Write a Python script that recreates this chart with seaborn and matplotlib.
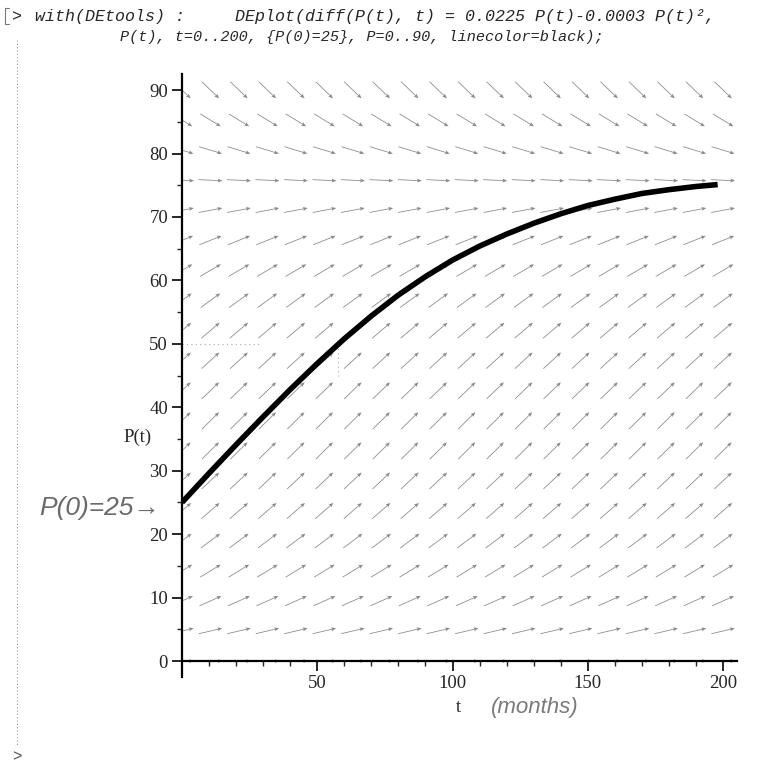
import numpy as np
import matplotlib.pyplot as plt
import seaborn as sns

# solution curve P(t)
t_curve = [0, 10, 20, 30, 40, 50, 60, 70, 80, 90, 100, 110, 120, 130, 140,
           150, 160, 170, 180, 190, 198]
P_curve = [25.0, 29.6, 34.1, 38.5, 42.8, 46.9, 50.8, 54.4, 57.7, 60.6, 63.2,
           65.4, 67.3, 69.0, 70.5, 71.8, 72.8, 73.7, 74.3, 74.8, 75.1]

# slope dP/dt of the direction field, one value per arrow row (P = 0 .. 90)
row_slopes = [0.00, 0.10, 0.19, 0.26, 0.32, 0.37, 0.40, 0.42, 0.42, 0.41,
              0.39, 0.36, 0.31, 0.25, 0.17, 0.08, -0.02, -0.13, -0.26, -0.41]

x_ticks = [50, 100, 150, 200]
y_ticks = [0, 10, 20, 30, 40, 50, 60, 70, 80, 90]

sns.set_style("white")
plt.rcParams["font.family"] = ["Liberation Serif", "DejaVu Serif"]

W, H = 777, 775
fig = plt.figure(figsize=(W / 100, H / 100), dpi=100)

# axes box in pixels
left, right, top, bottom = 182, 736.6, 74.2, 676.9
ax = fig.add_axes([left / W, 1 - bottom / H, (right - left) / W, (bottom - top) / H])
ax.set_xlim(0, 205)
ax.set_ylim(-2.5, 92.5)
px_x = (right - left) / 205
px_y = (bottom - top) / 95

# direction field: 20 x 20 grid, fixed arrow length on screen
tg = np.linspace(0, 200, 20)
pg = np.linspace(0, 90, 20)
T, P = np.meshgrid(tg, pg)
S = np.repeat(np.array(row_slopes)[:, None], len(tg), axis=1)
ang = np.arctan2(S * px_y, px_x)
ax.quiver(T, P, np.cos(ang), np.sin(ang), angles="uv", pivot="middle",
          scale_units="dots", scale=1 / 24, units="dots", width=0.8,
          headwidth=5, headlength=6, headaxislength=5, color="#8a8a8a",
          zorder=2)

# faint pencil marks at P = 50
ax.plot([0, 29], [50, 50], color="#aaaaaa", lw=0.8, ls=(0, (1, 3)), zorder=1)
ax.plot([57.7, 57.7], [50, 45], color="#aaaaaa", lw=0.8, ls=(0, (1, 3)), zorder=1)

# solution curve
sns.lineplot(x=t_curve, y=P_curve, color="black", linewidth=4.0, ax=ax,
             zorder=3, solid_capstyle="butt")

# maple style axes through the origin
for s in ["top", "right"]:
    ax.spines[s].set_visible(False)
ax.spines["bottom"].set_position(("data", 0))
ax.spines["left"].set_position(("data", 0))
for s in ["left", "bottom"]:
    ax.spines[s].set_linewidth(1.6)
    ax.spines[s].set_color("black")
    ax.spines[s].set_zorder(4)

ax.set_xticks(x_ticks)
ax.set_yticks(y_ticks)
ax.set_xticks(np.arange(10, 201, 10), minor=True)
ax.set_yticks(np.arange(5, 91, 10), minor=True)
ax.tick_params(axis="both", which="major", direction="out", length=7,
               width=1.4, labelsize=13.5, pad=3, bottom=True, left=True)
ax.tick_params(axis="both", which="minor", direction="out", length=3.5,
               width=1.0, bottom=True, left=True)
ax.set_xlabel("")
ax.set_ylabel("")

# axis labels
fig.text(138 / W, 1 - 437 / H, "P(t)", fontsize=13.5, ha="center", va="center")
fig.text(458 / W, 1 - 708 / H, "t", fontsize=13.5, ha="center", va="center")

# handwritten notes
fig.text(535 / W, 1 - 708 / H, "(months)", fontsize=16, style="italic",
         color="#7a7a7a", ha="center", va="center",
         family=["Liberation Sans", "DejaVu Sans"])
fig.text(100 / W, 1 - 508 / H, "P(0)=25\u2192", fontsize=19, style="italic",
         color="#6a6a6a", ha="center", va="center",
         family=["Liberation Sans", "DejaVu Sans"])

# worksheet input lines
mono = dict(family=["Liberation Mono", "DejaVu Sans Mono"], style="italic",
            va="center", ha="left")
fig.text(12 / W, 1 - 17 / H, ">", family=["Liberation Mono"], fontsize=12,
         va="center", ha="left")
fig.text(35 / W, 1 - 17 / H, "with(DEtools) :", fontsize=12, **mono)
fig.text(235 / W, 1 - 17 / H, "DEplot(diff(P(t), t) = 0.0225 P(t)-0.0003 P(t)\u00b2,",
         fontsize=12, **mono)
fig.text(120 / W, 1 - 37 / H, "P(t), t=0..200, {P(0)=25}, P=0..90, linecolor=black);",
         fontsize=11, **mono)
fig.text(12 / W, 1 - 757 / H, ">", family=["Liberation Mono"], fontsize=11.5,
         va="center", ha="left", color="#555555")

# worksheet bracket on the left edge
fig.add_artist(plt.Line2D([9 / W, 5 / W, 5 / W, 9 / W],
                          [1 - 8 / H, 1 - 8 / H, 1 - 24 / H, 1 - 24 / H],
                          transform=fig.transFigure, color="#777777", lw=0.8))
fig.add_artist(plt.Line2D([17 / W, 17 / W], [1 - 40 / H, 1 - 745 / H],
                          transform=fig.transFigure, color="#999999", lw=0.8,
                          ls=(0, (1, 2))))

fig.savefig("out.png", dpi=100)
